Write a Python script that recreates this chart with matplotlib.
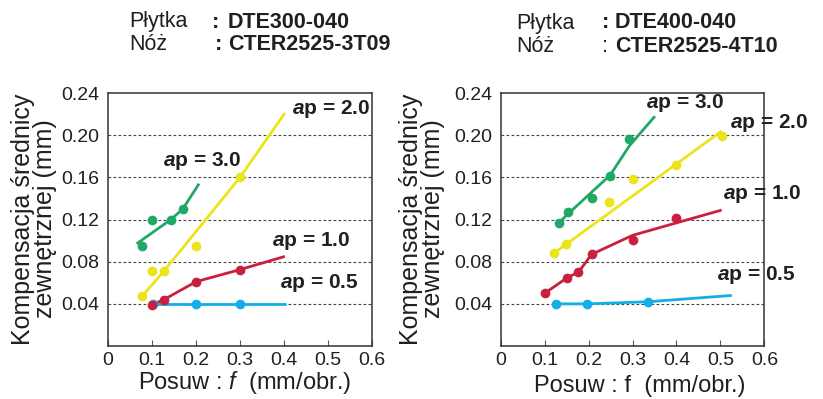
import matplotlib
matplotlib.use("Agg")
from matplotlib import pyplot as plt

plt.rcParams['font.family'] = ['Liberation Sans', 'DejaVu Sans']
plt.rcParams['mathtext.fontset'] = 'custom'
plt.rcParams['mathtext.rm'] = 'Liberation Sans'
plt.rcParams['mathtext.it'] = 'Liberation Sans:italic'
plt.rcParams['mathtext.bf'] = 'Liberation Sans:bold'
plt.rcParams['mathtext.bfit'] = 'Liberation Sans:italic:bold'

TXT = "#231f20"
GREEN = "#1fa866"
YELLOW = "#ece41a"
RED = "#c8203e"
BLUE = "#12aee8"

# --- left chart: DTE300-040 / CTER2525-3T09 ---
L_g_pts_f = [0.077, 0.100, 0.143, 0.170]
L_g_pts_v = [0.095, 0.120, 0.120, 0.130]
L_g_line_f = [0.065, 0.143, 0.170, 0.207]
L_g_line_v = [0.097, 0.120, 0.130, 0.154]

L_y_pts_f = [0.077, 0.100, 0.127, 0.200, 0.300]
L_y_pts_v = [0.047, 0.071, 0.071, 0.095, 0.160]
L_y_line_f = [0.077, 0.127, 0.300, 0.402]
L_y_line_v = [0.047, 0.071, 0.160, 0.221]

L_r_pts_f = [0.100, 0.127, 0.200, 0.300]
L_r_pts_v = [0.039, 0.044, 0.061, 0.0725]
L_r_line_f = [0.100, 0.127, 0.200, 0.300, 0.402]
L_r_line_v = [0.039, 0.044, 0.061, 0.0725, 0.085]

L_b_pts_f = [0.103, 0.200, 0.300]
L_b_pts_v = [0.040, 0.040, 0.040]
L_b_line_f = [0.100, 0.405]
L_b_line_v = [0.040, 0.040]

# --- right chart: DTE400-040 / CTER2525-4T10 ---
R_g_pts_f = [0.133, 0.154, 0.207, 0.249, 0.291]
R_g_pts_v = [0.117, 0.127, 0.140, 0.161, 0.196]
R_g_line_f = [0.127, 0.155, 0.207, 0.249, 0.293, 0.351]
R_g_line_v = [0.115, 0.126, 0.146, 0.162, 0.190, 0.218]

R_y_pts_f = [0.121, 0.148, 0.247, 0.300, 0.398, 0.503]
R_y_pts_v = [0.088, 0.097, 0.137, 0.158, 0.172, 0.199]
R_y_line_f = [0.121, 0.503]
R_y_line_v = [0.088, 0.204]

R_r_pts_f = [0.100, 0.152, 0.177, 0.207, 0.300, 0.399]
R_r_pts_v = [0.050, 0.065, 0.070, 0.087, 0.101, 0.121]
R_r_line_f = [0.100, 0.152, 0.177, 0.207, 0.300, 0.503]
R_r_line_v = [0.050, 0.065, 0.070, 0.087, 0.105, 0.129]

R_b_pts_f = [0.125, 0.197, 0.336]
R_b_pts_v = [0.040, 0.040, 0.042]
R_b_line_f = [0.125, 0.197, 0.336, 0.526]
R_b_line_v = [0.040, 0.040, 0.042, 0.048]

x_ticks = [0, 0.1, 0.2, 0.3, 0.4, 0.5, 0.6]
x_labels = ["0", "0.1", "0.2", "0.3", "0.4", "0.5", "0.6"]
y_ticks = [0.04, 0.08, 0.12, 0.16, 0.20, 0.24]
y_labels = ["0.04", "0.08", "0.12", "0.16", "0.20", "0.24"]

ap_labels = ["3.0", "2.0", "1.0", "0.5"]
L_lab_pos = [(0.125, 0.176), (0.418, 0.225), (0.373, 0.100), (0.390, 0.060)]
R_lab_pos = [(0.330, 0.231), (0.522, 0.212), (0.506, 0.1445), (0.492, 0.067)]

fig = plt.figure(figsize=(8.23, 3.99), dpi=100)
axL = fig.add_axes([0.1312, 0.1328, 0.3208, 0.634])
axR = fig.add_axes([0.6084, 0.1328, 0.3203, 0.634])


def style(ax):
    ax.set_xlim(0, 0.6)
    ax.set_ylim(0, 0.24)
    ax.set_xticks(x_ticks)
    ax.set_xticklabels(x_labels)
    ax.set_yticks(y_ticks)
    ax.set_yticklabels(y_labels)
    ax.tick_params(axis='x', direction='in', length=4, width=0.8, color="#555555",
                   labelsize=14, labelcolor=TXT, pad=4)
    ax.tick_params(axis='y', length=0, labelsize=14, labelcolor=TXT, pad=6)
    for s in ax.spines.values():
        s.set_color("#333333")
        s.set_linewidth(1.1)
    for v in y_ticks[:-1]:
        ax.axhline(v, color="#444444", lw=0.8, ls=(0, (2.5, 2)), zorder=1)


def series(ax, pf, pv, lf, lv, c):
    ax.plot(lf, lv, color=c, lw=2.0, zorder=3, solid_capstyle='butt')
    ax.plot(pf, pv, 'o', color=c, ms=7, mew=0, zorder=4)


style(axL)
series(axL, L_b_pts_f, L_b_pts_v, L_b_line_f, L_b_line_v, BLUE)
series(axL, L_r_pts_f, L_r_pts_v, L_r_line_f, L_r_line_v, RED)
series(axL, L_y_pts_f, L_y_pts_v, L_y_line_f, L_y_line_v, YELLOW)
series(axL, L_g_pts_f, L_g_pts_v, L_g_line_f, L_g_line_v, GREEN)

style(axR)
series(axR, R_b_pts_f, R_b_pts_v, R_b_line_f, R_b_line_v, BLUE)
series(axR, R_r_pts_f, R_r_pts_v, R_r_line_f, R_r_line_v, RED)
series(axR, R_y_pts_f, R_y_pts_v, R_y_line_f, R_y_line_v, YELLOW)
series(axR, R_g_pts_f, R_g_pts_v, R_g_line_f, R_g_line_v, GREEN)

for ax, pos in [(axL, L_lab_pos), (axR, R_lab_pos)]:
    for lab, (fx, fy) in zip(ap_labels, pos):
        ax.text(fx, fy, r"$\mathbfit{a}$p = " + lab, fontsize=15, fontweight='bold',
                color=TXT, ha='left', va='center', zorder=5, clip_on=False)

# headers
HS = 15.5
fig.text(129 / 823, 1 - 22 / 399, "Płytka", fontsize=HS, color=TXT, va='center')
fig.text(212 / 823, 1 - 22 / 399, ":", fontsize=HS, fontweight='bold', color=TXT, va='center')
fig.text(228 / 823, 1 - 22 / 399, "DTE300-040", fontsize=HS, fontweight='bold', color=TXT, va='center')
fig.text(129 / 823, 1 - 45 / 399, "Nóż", fontsize=HS, color=TXT, va='center')
fig.text(215 / 823, 1 - 45 / 399, ":", fontsize=HS, fontweight='bold', color=TXT, va='center')
fig.text(228 / 823, 1 - 45 / 399, "CTER2525-3T09", fontsize=HS, fontweight='bold', color=TXT, va='center')

fig.text(516 / 823, 1 - 23 / 399, "Płytka", fontsize=HS, color=TXT, va='center')
fig.text(602 / 823, 1 - 23 / 399, ":", fontsize=HS, fontweight='bold', color=TXT, va='center')
fig.text(615 / 823, 1 - 23 / 399, "DTE400-040", fontsize=HS, fontweight='bold', color=TXT, va='center')
fig.text(516 / 823, 1 - 47 / 399, "Nóż", fontsize=HS, color=TXT, va='center')
fig.text(602 / 823, 1 - 47 / 399, ":", fontsize=HS, color=TXT, va='center')
fig.text(615 / 823, 1 - 47 / 399, "CTER2525-4T10", fontsize=HS, fontweight='bold', color=TXT, va='center')

# axis labels
ylab = "Kompensacja średnicy\nzewnętrznej (mm)"
fig.text(34 / 823, 1 - 219 / 399, ylab, rotation=90, fontsize=18, color=TXT,
         ha='center', va='center', linespacing=0.85)
fig.text(422 / 823, 1 - 219 / 399, ylab, rotation=90, fontsize=18, color=TXT,
         ha='center', va='center', linespacing=0.85)
fig.text(245 / 823, 1 - 383 / 399, r"Posuw : $f$  (mm/obr.)", fontsize=17, color=TXT,
         ha='center', va='center')
fig.text(640 / 823, 1 - 386 / 399, "Posuw : f  (mm/obr.)", fontsize=17, color=TXT,
         ha='center', va='center')

fig.savefig("out.png", dpi=100)
